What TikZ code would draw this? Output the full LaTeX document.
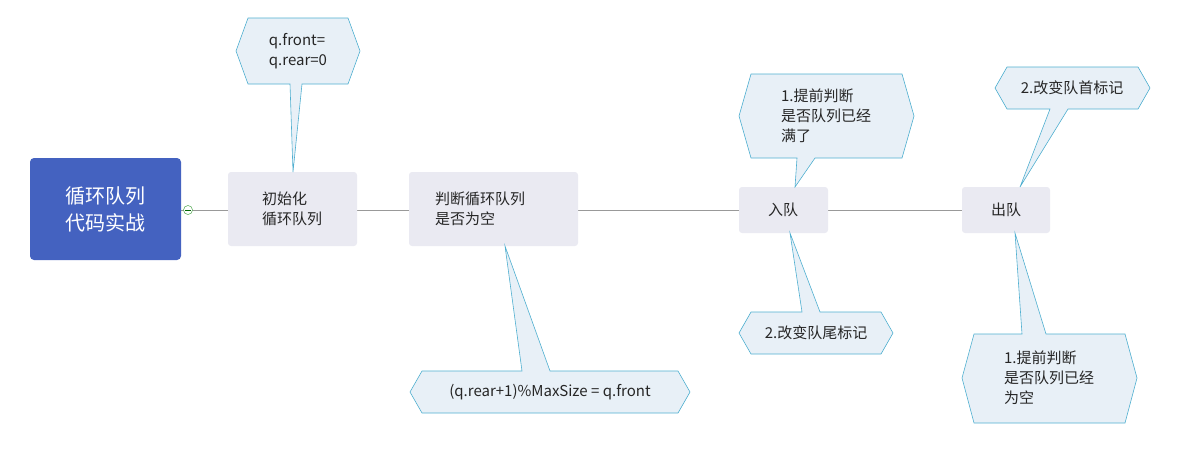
\documentclass[tikz,border=0pt]{standalone}
\usepackage{fontspec}
\setmainfont{Noto Sans CJK SC}
\begin{document}
\begin{tikzpicture}[x=1pt,y=-1pt,
  topic/.style={fill=topicfill,rounded corners=3pt},
  call/.style={fill=callfill,draw=callline,line width=0.6pt,line join=miter},
  txt/.style={font=\fontsize{15}{20}\selectfont,align=left,text=black!85,inner sep=0pt},
]
\definecolor{rootfill}{HTML}{4462C0}
\definecolor{topicfill}{HTML}{EAEAF2}
\definecolor{callfill}{HTML}{E8F0F7}
\definecolor{callline}{HTML}{4FAFD0}
\useasboundingbox (0,0) rectangle (1180,453);
% main line
\draw[gray!80,line width=0.6pt] (181,210) -- (962,210);
% root
\fill[rootfill,rounded corners=4pt] (30,158) rectangle (181,260);
\node[txt,text=white,font=\fontsize{20}{27}\selectfont,align=center] (root) at (105.5,209) {循环队列\\代码实战};
\node[circle,draw=green!50!black!70,fill=white,inner sep=0pt,minimum size=9pt,line width=0.5pt] (col) at (188,210) {};
\draw[green!40!black,line width=0.6pt] (185,210) -- (191,210);
% topics
\fill[topic] (228,172) rectangle (357,246);
\node[txt] (t1) at (292,209) {初始化\\循环队列};
\fill[topic] (409,172) rectangle (578,246);
\node[txt] (t2) at (480,209) {判断循环队列\\是否为空};
\fill[topic] (739,187) rectangle (828,233);
\node[txt] (t3) at (783,210) {入队};
\fill[topic] (962,187) rectangle (1050,233);
\node[txt] (t4) at (1006,210) {出队};
% callouts
\path[call] (248,18) -- (348,18) -- (360,51) -- (348,84) -- (302,84) -- (293,172) -- (290,84) -- (248,84) -- (236,51) -- cycle;
\node[txt] (c1) at (298,51) {q.front=\\q.rear=0};
\path[call] (422,371) -- (522,371) -- (505,246) -- (550,371) -- (678,371) -- (690,392) -- (678,413) -- (422,413) -- (410,392) -- cycle;
\node[txt] (c2) at (550,392) {(q.rear+1)\%MaxSize = q.front};
\path[call] (751,74) -- (902,74) -- (914,116) -- (902,158) -- (815,158) -- (795,187) -- (797,158) -- (751,158) -- (739,116) -- cycle;
\node[txt] (c3) at (826,116) {1.提前判断\\是否队列已经\\满了};
\path[call] (751,312) -- (802,312) -- (790,233) -- (820,312) -- (881,312) -- (893,333) -- (881,354) -- (751,354) -- (739,333) -- cycle;
\node[txt] (c4) at (816,333) {2.改变队尾标记};
\path[call] (1007,67) -- (1138,67) -- (1150,88) -- (1138,109) -- (1068,109) -- (1020,187) -- (1050,109) -- (1007,109) -- (995,88) -- cycle;
\node[txt] (c5) at (1072,88) {2.改变队首标记};
\path[call] (974,334) -- (1022,334) -- (1015,233) -- (1046,334) -- (1125,334) -- (1137,378) -- (1125,423) -- (974,423) -- (962,378) -- cycle;
\node[txt] (c6) at (1049,378) {1.提前判断\\是否队列已经\\为空};
\end{tikzpicture}
\end{document}
